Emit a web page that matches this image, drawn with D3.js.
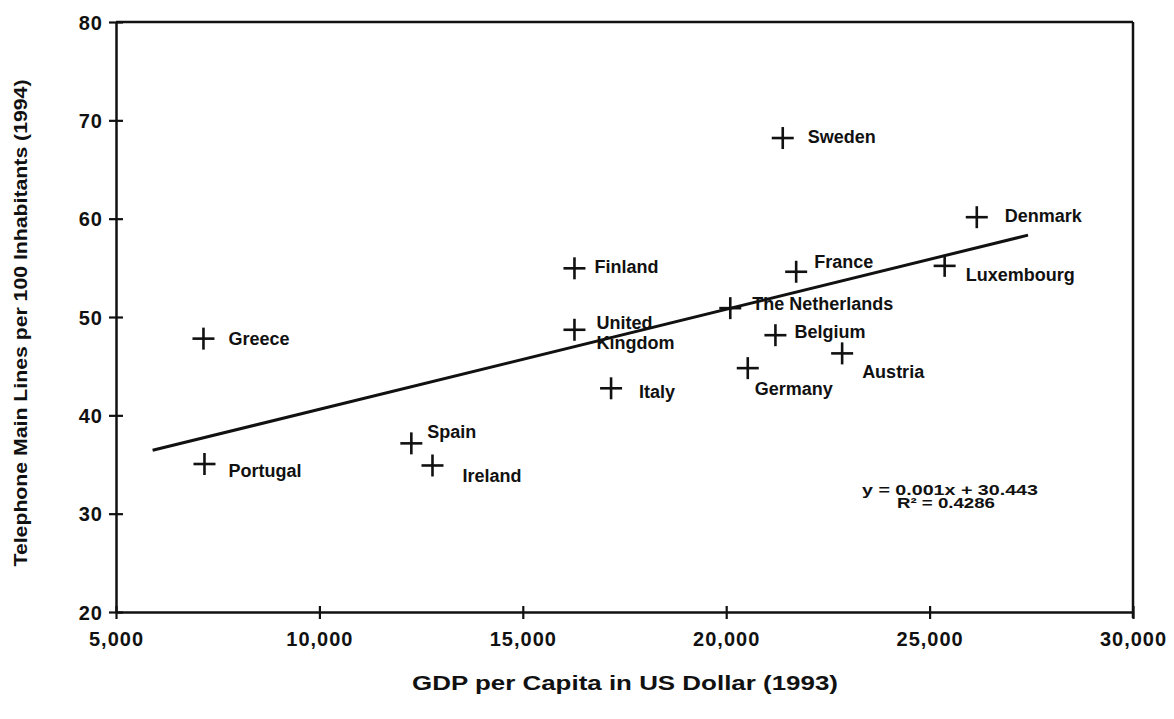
<!DOCTYPE html>
<html>
<head>
<meta charset="utf-8">
<script src="https://cdn.jsdelivr.net/npm/d3@7"></script>
<style>
  html, body { margin: 0; padding: 0; background: #fff; }
  svg { display: block; }
  text { font-family: "Liberation Sans", Arial, sans-serif; font-weight: bold; fill: #111; }
</style>
</head>
<body>
<svg id="chart" width="1174" height="719"></svg>
<script>
// Country observations: GDP per capita (US$, 1993) vs telephone main lines per 100 inhabitants (1994)
const countries = ["Greece", "Portugal", "Spain", "Ireland", "Finland", "United Kingdom", "Italy",
  "Sweden", "France", "The Netherlands", "Belgium", "Austria", "Germany", "Denmark", "Luxembourg"];
const gdpPerCapita = [7150, 7175, 12260, 12780, 16270, 16270, 17170,
  21390, 21720, 20100, 21210, 22850, 20530, 26160, 25370];
const phoneLines = [47.8, 35.05, 37.15, 34.9, 54.95, 48.7, 42.75,
  68.2, 54.6, 50.9, 48.15, 46.3, 44.8, 60.15, 55.2];

const xTicks = [5000, 10000, 15000, 20000, 25000, 30000];
const yTicks = [20, 30, 40, 50, 60, 70, 80];

// Extent over which the fitted trend line is drawn
const trendFrom = 5900;
const trendTo = 27420;

const equationLines = ["y = 0.001x + 30.443", "R² = 0.4286"];
const xTitle = "GDP per Capita in US Dollar (1993)";
const yTitle = "Telephone Main Lines per 100 Inhabitants (1994)";

// Label placement relative to each marker (pixels)
const labelOffset = {
  "Greece": [25, 0], "Portugal": [24, 7], "Spain": [16, -12], "Ireland": [30, 10],
  "Finland": [20, -2], "United Kingdom": [22, -7], "Italy": [28, 3], "Sweden": [25, -1],
  "France": [18, -10], "The Netherlands": [22, -4], "Belgium": [19, -3], "Austria": [20, 18],
  "Germany": [7, 21], "Denmark": [28, -1], "Luxembourg": [21, 9]
};

const svg = d3.select("#chart");
const plotLeft = 116, plotRight = 1133, plotTop = 22, plotBottom = 612;

const x = d3.scaleLinear().domain([5000, 30000]).range([plotLeft, plotRight]);
const y = d3.scaleLinear().domain([20, 80]).range([plotBottom, plotTop]);

const points = countries.map((c, i) => ({ name: c, gdp: gdpPerCapita[i], lines: phoneLines[i] }));

// Least-squares fit of lines on GDP
const mx = d3.mean(points, d => d.gdp), my = d3.mean(points, d => d.lines);
const sxy = d3.sum(points, d => (d.gdp - mx) * (d.lines - my));
const sxx = d3.sum(points, d => (d.gdp - mx) ** 2);
const slope = sxy / sxx, intercept = my - slope * mx;

// Frame: top and right edges
svg.append("line").attr("x1", plotLeft).attr("x2", plotRight).attr("y1", plotTop).attr("y2", plotTop)
  .attr("stroke", "#111").attr("stroke-width", 2.5);
svg.append("line").attr("x1", plotRight).attr("x2", plotRight).attr("y1", plotTop).attr("y2", plotBottom + 6)
  .attr("stroke", "#111").attr("stroke-width", 2.5);

// Axes with ticks crossing the axis line
const xAxis = svg.append("g").attr("transform", `translate(0,${plotBottom})`)
  .call(d3.axisBottom(x).tickValues(xTicks).tickSize(0).tickSizeOuter(0).tickFormat(d3.format(",")));
xAxis.select(".domain").attr("stroke", "#111").attr("stroke-width", 2.5);
xAxis.selectAll(".tick line").attr("y1", -6).attr("y2", 7).attr("stroke", "#111").attr("stroke-width", 2.2);
xAxis.selectAll(".tick text").attr("y", 28).attr("dy", "0.32em")
  .style("font-size", "20px").style("letter-spacing", "1px").attr("fill", "#111");

const yAxis = svg.append("g").attr("transform", `translate(${plotLeft},0)`)
  .call(d3.axisLeft(y).tickValues(yTicks).tickSize(0).tickSizeOuter(0));
yAxis.select(".domain").attr("stroke", "#111").attr("stroke-width", 2.5);
yAxis.selectAll(".tick line").attr("x1", -7).attr("x2", 7).attr("stroke", "#111").attr("stroke-width", 2.2);
yAxis.selectAll(".tick text").attr("x", -13).attr("dy", "0.36em")
  .style("font-size", "20px").style("letter-spacing", "1px").attr("fill", "#111");

// Trend line
svg.append("line")
  .attr("x1", x(trendFrom)).attr("y1", y(intercept + slope * trendFrom))
  .attr("x2", x(trendTo)).attr("y2", y(intercept + slope * trendTo))
  .attr("stroke", "#111").attr("stroke-width", 3);

// Plus markers
const arm = 11;
const marks = svg.append("g").selectAll("g").data(points).join("g")
  .attr("transform", d => `translate(${x(d.gdp)},${y(d.lines)})`);
marks.append("line").attr("x1", -arm).attr("x2", arm).attr("stroke", "#111").attr("stroke-width", 2.6);
marks.append("line").attr("y1", -arm).attr("y2", arm).attr("stroke", "#111").attr("stroke-width", 2.6);

// Country labels
svg.append("g").selectAll("text").data(points).join("text")
  .attr("x", d => x(d.gdp) + labelOffset[d.name][0])
  .attr("y", d => y(d.lines) + labelOffset[d.name][1])
  .attr("dy", "0.35em")
  .style("font-size", "18px")
  .each(function (d) {
    const t = d3.select(this);
    if (d.name === "United Kingdom") {
      t.append("tspan").attr("x", t.attr("x")).text("United");
      t.append("tspan").attr("x", t.attr("x")).attr("dy", "1.1em").text("Kingdom");
    } else {
      t.text(d.name);
    }
  });

// Regression equation
const eqWidths = [176, 98];
svg.append("g").selectAll("text").data(equationLines).join("text")
  .attr("x", (d, i) => i === 0 ? 950 : 946).attr("y", (d, i) => 490 + i * 13).attr("dy", "0.35em")
  .attr("text-anchor", "middle").style("font-size", "15px")
  .attr("textLength", (d, i) => eqWidths[i]).attr("lengthAdjust", "spacingAndGlyphs")
  .text(d => d);

// Axis titles
svg.append("text").attr("x", 625).attr("y", 683).attr("dy", "0.35em")
  .attr("text-anchor", "middle").style("font-size", "20px")
  .attr("textLength", 426).attr("lengthAdjust", "spacingAndGlyphs").text(xTitle);
svg.append("text").attr("transform", "translate(20,323) rotate(-90)").attr("dy", "0.35em")
  .attr("text-anchor", "middle").style("font-size", "19px")
  .attr("textLength", 487).attr("lengthAdjust", "spacingAndGlyphs").text(yTitle);
</script>
</body>
</html>
